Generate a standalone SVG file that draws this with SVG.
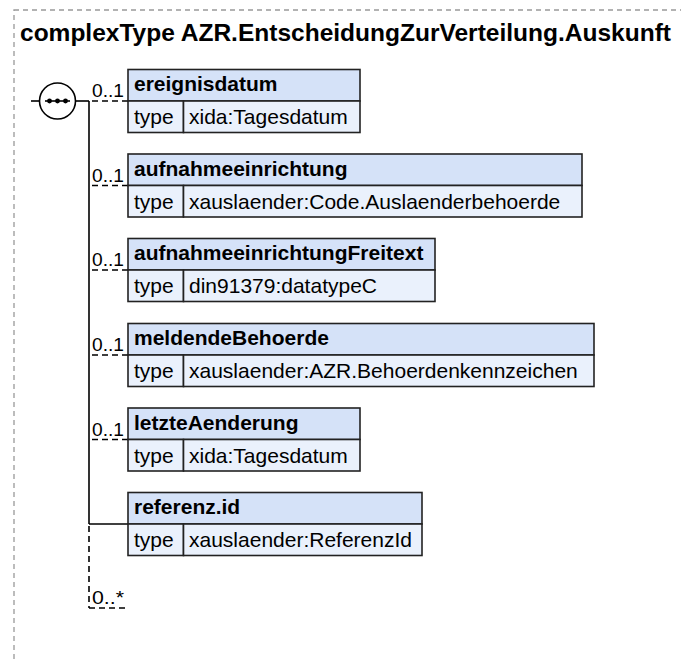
<svg xmlns="http://www.w3.org/2000/svg" width="681" height="659" viewBox="0 0 681 659">
<style>
.frame{fill:none;stroke:#999;stroke-width:1.3;stroke-dasharray:5,4}
.title{font-family:"Liberation Sans",Arial,sans-serif;font-weight:bold;font-size:24px;fill:#000}
.hdr{fill:#d5e2f8;stroke:#222;stroke-width:1.6}
.row{fill:#eaf1fc;stroke:#222;stroke-width:1.6}
.name{font-family:"Liberation Sans",Arial,sans-serif;font-weight:bold;font-size:21px;fill:#000}
.txt{font-family:"Liberation Sans",Arial,sans-serif;font-size:21px;fill:#000}
.card{font-family:"Liberation Sans",Arial,sans-serif;font-size:19px;fill:#000}
.ln{stroke:#000;stroke-width:1.6;fill:none}
.dl{stroke:#000;stroke-width:1.6;fill:none;stroke-dasharray:6,4}
</style>
<rect class="frame" x="14" y="10" width="700" height="700"/>
<text class="title" x="20" y="41" textLength="651" lengthAdjust="spacingAndGlyphs">complexType AZR.EntscheidungZurVerteilung.Auskunft</text>

<g id="sequence">
<line class="ln" x1="31" y1="101" x2="39.5" y2="101"/>
<circle cx="57.5" cy="101" r="18" fill="#fff" stroke="#000" stroke-width="1.6"/>
<line class="ln" x1="45" y1="101" x2="70" y2="101"/>
<circle cx="49.5" cy="101" r="2.4" fill="#000"/>
<circle cx="57.5" cy="101" r="2.4" fill="#000"/>
<circle cx="65.5" cy="101" r="2.4" fill="#000"/>
</g>

<g id="connectors">
<line class="ln" x1="75.5" y1="101" x2="89" y2="101"/>
<line class="ln" x1="89" y1="101" x2="89" y2="524"/>
<line class="dl" x1="89" y1="524" x2="89" y2="608" stroke-dashoffset="-2"/>
<line class="dl" x1="89" y1="608" x2="125" y2="608"/>
<line class="dl" x1="89" y1="101" x2="128" y2="101" stroke-dashoffset="-3"/>
<line class="dl" x1="89" y1="185.5" x2="128" y2="185.5" stroke-dashoffset="-3"/>
<line class="dl" x1="89" y1="270" x2="128" y2="270" stroke-dashoffset="-3"/>
<line class="dl" x1="89" y1="355" x2="128" y2="355" stroke-dashoffset="-3"/>
<line class="dl" x1="89" y1="439.5" x2="128" y2="439.5" stroke-dashoffset="-3"/>
<line class="ln" x1="89" y1="524" x2="128" y2="524"/>
<text class="card" x="92" y="97" textLength="32" lengthAdjust="spacingAndGlyphs">0..1</text>
<text class="card" x="92" y="181.5" textLength="32" lengthAdjust="spacingAndGlyphs">0..1</text>
<text class="card" x="92" y="266" textLength="32" lengthAdjust="spacingAndGlyphs">0..1</text>
<text class="card" x="92" y="351" textLength="32" lengthAdjust="spacingAndGlyphs">0..1</text>
<text class="card" x="92" y="435.5" textLength="32" lengthAdjust="spacingAndGlyphs">0..1</text>
<text class="card" x="92" y="604" textLength="32" lengthAdjust="spacingAndGlyphs">0..*</text>
</g>

<g id="ereignisdatum">
<rect class="hdr" x="128" y="69.5" width="232" height="31.5"/>
<rect class="row" x="128" y="101" width="55.5" height="31.5"/>
<rect class="row" x="183.5" y="101" width="176.5" height="31.5"/>
<text class="name" x="134" y="91">ereignisdatum</text>
<text class="txt" x="134" y="124">type</text>
<text class="txt" x="189" y="124">xida:Tagesdatum</text>
</g>

<g id="aufnahmeeinrichtung">
<rect class="hdr" x="128" y="154" width="454" height="31.5"/>
<rect class="row" x="128" y="185.5" width="55.5" height="31.5"/>
<rect class="row" x="183.5" y="185.5" width="398.5" height="31.5"/>
<text class="name" x="134" y="175.5">aufnahmeeinrichtung</text>
<text class="txt" x="134" y="208.5">type</text>
<text class="txt" x="189" y="208.5">xauslaender:Code.Auslaenderbehoerde</text>
</g>

<g id="aufnahmeeinrichtungFreitext">
<rect class="hdr" x="128" y="238.5" width="307" height="31.5"/>
<rect class="row" x="128" y="270" width="55.5" height="31.5"/>
<rect class="row" x="183.5" y="270" width="251.5" height="31.5"/>
<text class="name" x="134" y="260">aufnahmeeinrichtungFreitext</text>
<text class="txt" x="134" y="293">type</text>
<text class="txt" x="189" y="293">din91379:datatypeC</text>
</g>

<g id="meldendeBehoerde">
<rect class="hdr" x="128" y="323.5" width="466" height="31.5"/>
<rect class="row" x="128" y="355" width="55.5" height="31.5"/>
<rect class="row" x="183.5" y="355" width="410.5" height="31.5"/>
<text class="name" x="134" y="345">meldendeBehoerde</text>
<text class="txt" x="134" y="378">type</text>
<text class="txt" x="189" y="378">xauslaender:AZR.Behoerdenkennzeichen</text>
</g>

<g id="letzteAenderung">
<rect class="hdr" x="128" y="408" width="232" height="31.5"/>
<rect class="row" x="128" y="439.5" width="55.5" height="31.5"/>
<rect class="row" x="183.5" y="439.5" width="176.5" height="31.5"/>
<text class="name" x="134" y="429.5">letzteAenderung</text>
<text class="txt" x="134" y="462.5">type</text>
<text class="txt" x="189" y="462.5">xida:Tagesdatum</text>
</g>

<g id="referenz.id">
<rect class="hdr" x="128" y="492.5" width="294" height="31.5"/>
<rect class="row" x="128" y="524" width="55.5" height="31.5"/>
<rect class="row" x="183.5" y="524" width="238.5" height="31.5"/>
<text class="name" x="134" y="514">referenz.id</text>
<text class="txt" x="134" y="547">type</text>
<text class="txt" x="189" y="547">xauslaender:ReferenzId</text>
</g>
</svg>
